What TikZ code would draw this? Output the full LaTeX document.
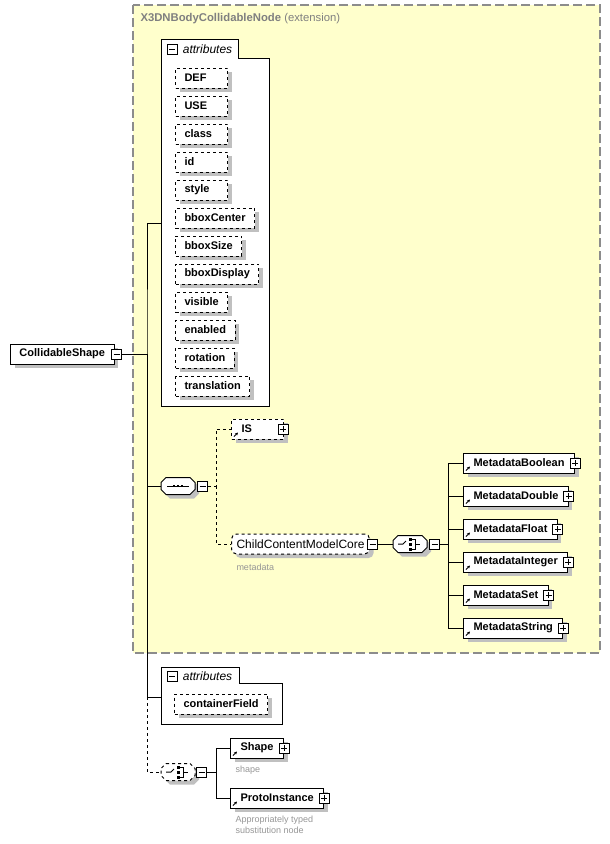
\documentclass[tikz,border=0pt]{standalone}
\usepackage{fontspec}
\setmainfont{Liberation Sans}
\usetikzlibrary{arrows.meta,positioning,shadows}

\definecolor{extfill}{RGB}{255,255,204}
\definecolor{extline}{RGB}{140,140,140}
\definecolor{titlegray}{RGB}{128,128,128}
\definecolor{shadowgray}{RGB}{192,192,192}
\definecolor{notegray}{RGB}{150,150,150}

% text padded to a minimum width, left aligned
\newcommand\minw[2][34pt]{\setbox0\hbox{#2}\ifdim\wd0<#1\hbox to #1{\box0\hfil}\else\box0\fi}

% octagon frame of a compositor node
\newcommand\compframe[2]{%
    \fill[shadowgray, transform canvas={shift={(4pt,-4pt)}}]
        ([xshift=5pt]#1.north west) -- ([xshift=-5pt]#1.north east) -- ([yshift=-5pt]#1.north east)
        -- ([yshift=5pt]#1.south east) -- ([xshift=-5pt]#1.south east) -- ([xshift=5pt]#1.south west)
        -- ([yshift=5pt]#1.south west) -- ([yshift=-5pt]#1.north west) -- cycle;
    \draw[fill=white, #2]
        ([xshift=5pt]#1.north west) -- ([xshift=-5pt]#1.north east) -- ([yshift=-5pt]#1.north east)
        -- ([yshift=5pt]#1.south east) -- ([xshift=-5pt]#1.south east) -- ([xshift=5pt]#1.south west)
        -- ([yshift=5pt]#1.south west) -- ([yshift=-5pt]#1.north west) -- cycle;}
\newcommand\seqglyph[1]{%
    \draw ([xshift=-11pt]#1.center) -- ([xshift=11pt]#1.center);
    \foreach \d in {-4,0,4} \fill ([shift={(\d pt-1.4pt,-1.4pt)}]#1.center) rectangle ++(2.8pt,2.8pt);}
\newcommand\choglyph[1]{%
    \draw ([xshift=-12pt]#1.center) -- ++(5pt,0pt) -- ++(3pt,3pt);
    \foreach \d in {-5,0,5} \fill ([shift={(-1.5pt,\d pt-1.5pt)}]#1.center) rectangle ++(3pt,3pt);
    \draw ([shift={(1.5pt,5pt)}]#1.center) -- ++(3.5pt,0pt) -- ++(0pt,-10pt) -- ++(-3.5pt,0pt);
    \draw ([xshift=5pt]#1.center) -- ++(5pt,0pt);}

\begin{document}
\begin{tikzpicture}[x=1pt, y=-1pt, line width=1pt,
    shade/.style={general shadow={fill=shadowgray, shadow xshift=4pt, shadow yshift=-4pt}},
    elem/.style={draw, fill=white, anchor=west, font=\bfseries\fontsize{11}{13}\selectfont,
        minimum height=20pt, inner xsep=9pt, inner ysep=0pt, shade},
    attr/.style={elem, dashed},
    refel/.style={elem, inner xsep=10pt, path picture={
        \draw[solid, line width=0.8pt, -{Stealth[length=3pt, width=3pt]}]
            ([shift={(2.5pt,2.5pt)}]path picture bounding box.south west) -- ++(4pt,4pt);}},
    pmbox/.style={draw, solid, fill=white, minimum size=10pt, inner sep=0pt},
    minus/.style={pmbox, path picture={
        \draw ([xshift=2pt]path picture bounding box.west) -- ([xshift=-2pt]path picture bounding box.east);}},
    plus/.style={pmbox, path picture={
        \draw ([xshift=2pt]path picture bounding box.west) -- ([xshift=-2pt]path picture bounding box.east);
        \draw ([yshift=2pt]path picture bounding box.south) -- ([yshift=-2pt]path picture bounding box.north);}},
    comp/.style={minimum width=33pt, minimum height=16pt, inner sep=0pt, anchor=west},
    grp/.style={draw, fill=white},
    grplabel/.style={anchor=west, font=\itshape\fontsize{12}{14}\selectfont},
    note/.style={anchor=west, text=notegray, font=\fontsize{9}{11}\selectfont, inner sep=0pt, align=left}
]
    \useasboundingbox (0,0) rectangle (610,844);

    % Extension box
    \draw[fill=extfill, draw=extline, line width=1.3pt, dash pattern=on 9pt off 4pt] (133,5) rectangle (600,653);
    \node[anchor=west, text=titlegray, font=\fontsize{11.3}{13}\selectfont, inner sep=0pt] (title) at (140,19)
        {\textbf{X3DNBodyCollidableNode} (extension)};

    % Root element
    \node[elem] (root) at (10,354) {CollidableShape};
    \node[minus] (rootm) at ([xshift=2pt]root.east) {};

    % Attributes of the extension
    \draw[grp] (161,39) -- (238,39) -- (238,58) -- (269,58) -- (269,406) -- (161,406) -- cycle;
    \node[minus] (g1m) at (172,49) {};
    \node[grplabel] (g1t) at (179,49) {attributes};
    \foreach \a [count=\i] in {DEF,USE,class,id,style,bboxCenter,bboxSize,bboxDisplay,visible,enabled,rotation,translation} {
        \node[attr] (a\i) at (175, 50+28*\i) {\minw{\a}};
    }
    \coordinate (g1) at (161,223);

    % Sequence: IS, ChildContentModelCore
    \node[comp] (seq) at (161,486) {};
    \compframe{seq}{}
    \seqglyph{seq}
    \node[minus, anchor=west] (seqm) at ([xshift=2pt]seq.east) {};
    \coordinate (seqj) at (216,486);
    \node[refel, dashed] (IS) at (231,429) {\minw[32pt]{IS}};
    \node[plus] (ISp) at ([xshift=-1pt]IS.east) {};
    \node[elem, dashed, rounded corners=5pt, font=\fontsize{12}{14}\selectfont, inner xsep=5pt] (ccmc) at (231,544) {ChildContentModelCore};
    \node[minus, anchor=west] (ccmcm) at ([xshift=-3pt]ccmc.east) {};
    \node[note] (ccmcn) at (236,567) {metadata};

    % Choice of metadata nodes
    \node[comp] (cho) at (393,544) {};
    \compframe{cho}{}
    \choglyph{cho}
    \node[minus, anchor=west] (chom) at ([xshift=2pt]cho.east) {};
    \coordinate (choj) at (448,544);
    \foreach \t [count=\i] in {Boolean,Double,Float,Integer,Set,String} {
        \node[refel] (m\t) at (463, 430+33*\i) {Metadata\t};
        \node[plus] (m\t p) at (m\t.east) {};
        \draw (choj) |- (m\t.west);
    }

    % Attributes of CollidableShape
    \draw[grp] (161,667) -- (239,667) -- (239,683) -- (282,683) -- (282,724) -- (161,724) -- cycle;
    \node[minus] (g2m) at (172,676) {};
    \node[grplabel] (g2t) at (179,676) {attributes};
    \node[attr] (cf) at (174,704) {containerField};
    \coordinate (g2) at (161,697);

    % Choice: Shape, ProtoInstance
    \node[comp] (cho2) at (161,772) {};
    \compframe{cho2}{dashed}
    \choglyph{cho2}
    \node[minus, anchor=west] (cho2m) at ([xshift=1pt]cho2.east) {};
    \coordinate (cho2j) at (216,772);
    \node[refel] (shape) at (230,748) {Shape};
    \node[plus] (shapep) at (shape.east) {};
    \node[note] (shapen) at (235,770) {shape};
    \node[refel] (proto) at (230,798) {ProtoInstance};
    \node[plus] (protop) at (proto.east) {};
    \node[note, anchor=north west] (proton) at (235,815) {Appropriately typed\\substitution node};

    % Connectors
    \coordinate (trunk) at (147,354);
    \draw (rootm) -- (trunk);
    \draw (g1) -| (trunk) |- (seq.west);
    \draw (trunk) |- (g2);
    \draw[dashed] (g2 -| trunk) |- (cho2.west);
    \draw[dashed] (seqm) -- (seqj) |- (IS.west) (seqj) |- (ccmc.west);
    \draw (ccmcm) -- (cho.west);
    \draw (chom) -- (choj);
    \draw (cho2m) -- (cho2j) |- (shape.west) (cho2j) |- (proto.west);
\end{tikzpicture}
\end{document}
